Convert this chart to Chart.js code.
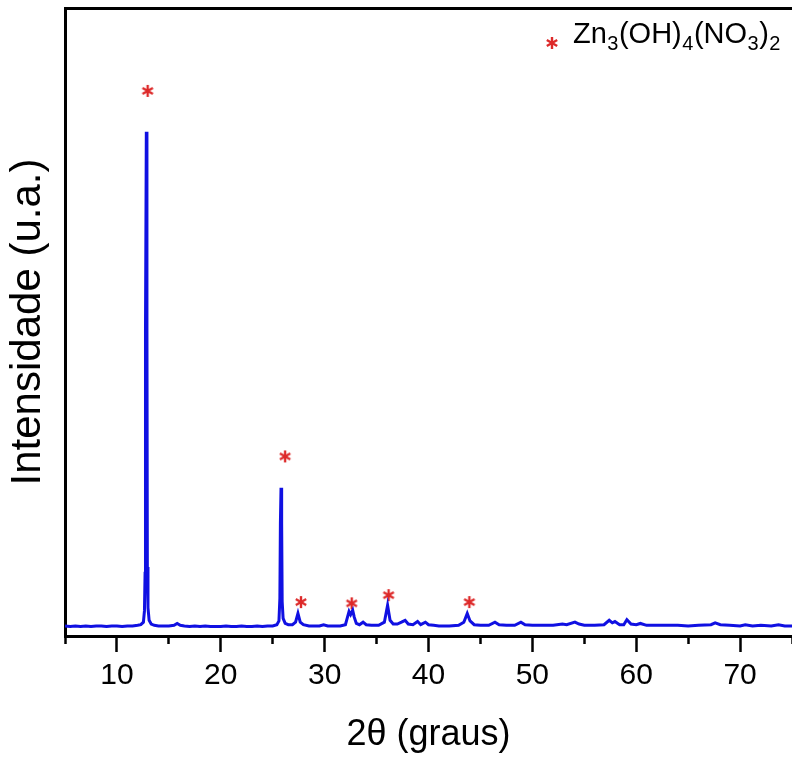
<!DOCTYPE html>
<html>
<head>
<meta charset="utf-8">
<script src="https://cdn.jsdelivr.net/npm/chart.js@4.4.0/dist/chart.umd.min.js"></script>
<style>
  html, body { margin: 0; padding: 0; background: #fff; overflow: hidden; }
  #wrap { width: 792px; height: 757px; overflow: hidden; }
  #xrd { display: block; }
</style>
</head>
<body>
<div id="wrap"><canvas id="xrd" width="800" height="757"></canvas></div>
<script>
// Difratograma (2θ em graus, intensidade em unidades arbitrárias 0–1000)
const twoTheta = [
  5.0, 5.5, 6.0, 6.5, 7.0, 7.5, 8.0, 8.5, 9.0, 9.5, 10.0, 10.5, 11.0, 11.5, 12.0, 12.3,
  12.55, 12.65, 12.71, 12.75, 12.83, 12.89, 12.93, 12.99, 13.1, 13.3, 13.6, 14.0, 14.5, 15.0,
  15.5, 15.8, 16.1, 16.5, 17.0, 17.5, 18.0, 18.5, 19.0, 19.5, 20.0, 20.5, 21.0, 21.5, 22.0,
  22.5, 23.0, 23.5, 24.0, 24.5, 25.0, 25.4, 25.6, 25.69, 25.74, 25.8, 25.86, 25.91, 26.0, 26.2,
  26.5, 26.9, 27.2, 27.43, 27.65, 27.95, 28.5, 29.0, 29.5, 29.9, 30.3, 31.0, 31.5, 32.0, 32.2,
  32.35, 32.5, 32.7, 32.85, 33.05, 33.35, 33.7, 34.0, 34.5, 35.2, 35.75, 36.06, 36.3, 36.6,
  37.0, 37.4, 37.75, 38.05, 38.5, 38.95, 39.25, 39.7, 40.0, 40.5, 41.0, 42.0, 42.9, 43.4,
  43.73, 44.0, 44.4, 45.0, 45.8, 46.4, 46.8, 47.5, 48.3, 48.9, 49.3, 50.0, 51.0, 52.0, 52.9,
  53.3, 54.1, 54.5, 55.0, 56.0, 56.9, 57.4, 57.7, 57.95, 58.4, 58.8, 59.1, 59.5, 60.0, 60.4,
  61.0, 62.0, 63.0, 64.0, 65.0, 66.0, 67.2, 67.6, 68.1, 69.0, 70.0, 70.5, 71.2, 72.0, 73.0,
  73.7, 74.3, 75.0
];
const intensity = [
  16, 15, 16, 15, 16, 15, 16, 16, 15, 16, 16, 15, 16, 16, 17, 18,
  22, 40, 100, 490, 803, 490, 110, 45, 25, 19, 17, 16, 16, 16,
  17, 20, 17, 16, 15, 16, 15, 16, 15, 15, 15, 16, 15, 15, 16,
  15, 15, 16, 15, 16, 16, 18, 24, 60, 180, 236, 180, 55, 28, 20,
  18, 18, 22, 36, 22, 18, 16, 16, 16, 18, 16, 16, 16, 18, 30,
  39, 34, 41, 30, 20, 18, 22, 18, 17, 17, 22, 49, 25, 19,
  19, 22, 25, 19, 18, 23, 18, 22, 18, 17, 16, 16, 17, 22,
  36, 24, 18, 17, 17, 22, 18, 17, 17, 22, 18, 17, 17, 17, 19,
  18, 22, 19, 17, 17, 18, 25, 21, 23, 18, 18, 26, 19, 18, 20,
  17, 17, 17, 17, 16, 17, 18, 21, 18, 17, 16, 18, 16, 17, 16,
  18, 16, 16
];

// Asteriscos que marcam os picos de Zn3(OH)4(NO3)2
const markTheta = [12.96, 26.19, 27.72, 32.61, 36.16, 43.93];
const markIntensity = [868, 286, 54, 52, 65, 54];

// Marcas do eixo x
const majorTicks = [10, 20, 30, 40, 50, 60, 70];
const minorTicks = [5, 15, 25, 35, 45, 55, 65, 75];

const legendParts = [["Zn", 0], ["3", 1], ["(OH)", 0], ["4", 1], ["(NO", 0], ["3", 1], [")", 0], ["2", 1]];

const FONT = '"Liberation Sans", Arial, Helvetica, sans-serif';
const RED = "#dd2a2a";

// asterisco de 6 pontas desenhado num pequeno canvas (usado como pointStyle)
function makeAsterisk(size, color) {
  const c = document.createElement("canvas");
  c.width = size; c.height = size;
  const g = c.getContext("2d");
  g.strokeStyle = color;
  g.lineWidth = 2.4;
  const r = size / 2 - 1, cx = size / 2, cy = size / 2;
  [90, 30, 150].forEach(function (a) {
    const t = a * Math.PI / 180;
    g.beginPath();
    g.moveTo(cx - r * Math.cos(t), cy - r * Math.sin(t));
    g.lineTo(cx + r * Math.cos(t), cy + r * Math.sin(t));
    g.stroke();
  });
  return c;
}
const star = makeAsterisk(14, RED);

// legenda com subscritos
const formulaLegend = {
  id: "formulaLegend",
  afterDraw(chart) {
    const ctx = chart.ctx;
    ctx.save();
    ctx.drawImage(star, 552 - 7, 43 - 7);
    let x = 573;
    const y = 43;
    ctx.fillStyle = "#000";
    ctx.textBaseline = "alphabetic";
    legendParts.forEach(function (p) {
      ctx.font = (p[1] ? "20px " : "29px ") + FONT;
      ctx.fillText(p[0], x, p[1] ? y + 7 : y);
      x += ctx.measureText(p[0]).width + 0.5;
    });
    ctx.restore();
  }
};

Chart.defaults.font.family = FONT;
Chart.defaults.color = "#000";

new Chart(document.getElementById("xrd"), {
  type: "line",
  data: {
    datasets: [{
      data: twoTheta.map(function (t, i) { return { x: t, y: intensity[i] }; }),
      borderColor: "#1010e2",
      borderWidth: 3,
      pointRadius: 0,
      tension: 0,
      fill: false
    }, {
      type: "scatter",
      data: markTheta.map(function (t, i) { return { x: t, y: markIntensity[i] }; }),
      pointStyle: star,
      pointRadius: 7,
      showLine: false
    }]
  },
  options: {
    responsive: false,
    animation: false,
    events: [],
    layout: { padding: { top: 6, right: 5, left: 0, bottom: 0 } },
    plugins: { legend: { display: false }, tooltip: { enabled: false } },
    scales: {
      x: {
        type: "linear", position: "bottom", weight: 1,
        min: 5, max: 75,
        afterBuildTicks: function (s) { s.ticks = majorTicks.map(function (v) { return { value: v }; }); },
        afterFit: function (s) { s.height = 121; },
        ticks: { font: { size: 30 }, padding: 6, maxRotation: 0, autoSkip: false },
        grid: { drawOnChartArea: false, tickLength: 16, tickWidth: 2.5, tickColor: "#000" },
        border: { display: true, width: 3, color: "#000" },
        title: { display: true, text: "2θ (graus)", font: { size: 36 }, padding: 0 }
      },
      xMinor: {
        type: "linear", position: "bottom", weight: 0,
        min: 5, max: 75,
        afterBuildTicks: function (s) { s.ticks = minorTicks.map(function (v) { return { value: v }; }); },
        afterFit: function (s) { s.height = 0; },
        ticks: { display: false },
        grid: { drawOnChartArea: false, tickLength: 8, tickWidth: 2.5, tickColor: "#000" },
        border: { display: false }
      },
      xTop: {
        type: "linear", position: "top",
        min: 5, max: 75,
        afterFit: function (s) { s.height = 0; },
        ticks: { display: false },
        grid: { display: false },
        border: { display: true, width: 3, color: "#000" }
      },
      y: {
        min: 0, max: 1000,
        afterFit: function (s) { s.width = 65; },
        ticks: { display: false },
        grid: { drawOnChartArea: false, drawTicks: false },
        border: { display: true, width: 3, color: "#000" },
        title: { display: true, text: "Intensidade (u.a.)", font: { size: 42 }, padding: { top: 3 } }
      }
    }
  },
  plugins: [formulaLegend]
});
</script>
</body>
</html>
